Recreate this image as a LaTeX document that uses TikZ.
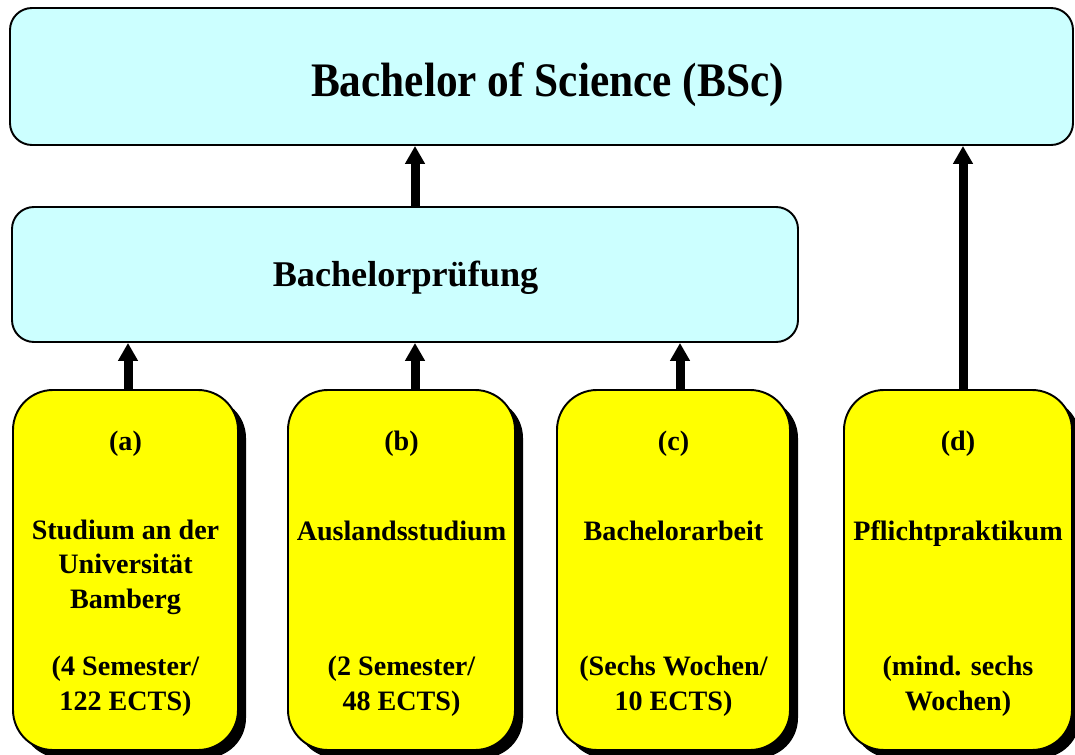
\documentclass[tikz,border=0pt]{standalone}
\usepackage{fontspec}
\setmainfont{Liberation Serif}
\usetikzlibrary{arrows.meta, positioning, shadows}

\definecolor{degreecyan}{HTML}{CCFFFF}
\definecolor{partyellow}{HTML}{FFFF00}

\begin{document}
\begin{tikzpicture}[
    degree/.style={draw=black, line width=1.1pt, rounded corners=0.44cm, fill=degreecyan, inner sep=0pt},
    part/.style={draw=black, line width=1.1pt, rounded corners=0.8cm, fill=partyellow, inner sep=0pt,
        minimum height=7.2cm, drop shadow={shadow xshift=0.16cm, shadow yshift=-0.16cm, opacity=1, fill=black}},
    parttext/.style={font=\bfseries\fontsize{16}{19.4}\selectfont, align=center, anchor=base, inner sep=0pt},
    uparrow/.style={line width=0.18cm, -{Triangle[width=0.38cm, length=0.36cm]}}
]

    \useasboundingbox (0,0) rectangle (21.5,-15.1);

    % Define nodes
    \node (bsc) [degree, minimum width=21.26cm, minimum height=2.74cm] at (10.83,-1.53) {};
    \node (pruefung) [degree, minimum width=15.72cm, minimum height=2.7cm] at (8.1,-5.49) {};

    \node (a) [part, minimum width=4.5cm] at (2.51,-11.4) {};
    \node (b) [part, minimum width=4.54cm] at (8.03,-11.4) {};
    \node (c) [part, minimum width=4.66cm] at (13.47,-11.4) {};
    \node (d) [part, minimum width=4.56cm] at (19.16,-11.4) {};

    % Texts in the boxes (base = last line)
    \node (bsctext) [anchor=base, inner sep=0pt] at (10.95,-1.94)
        {\fontsize{27.4}{32}\selectfont\bfseries\scalebox{0.9}[1]{Bachelor of Science (BSc)}};
    \node (pruefungtext) [anchor=base, inner sep=0pt] at (8.11,-5.72)
        {\fontsize{20.6}{24}\selectfont\bfseries Bachelorprüfung};

    \node (alabel) [parttext] at (2.51,-9.0) {(a)};
    \node (atext) [parttext] at (2.51,-12.16) {Studium an der\\Universität\\Bamberg};
    \node (aects) [parttext] at (2.51,-14.2) {(4 Semester/\\122 ECTS)};

    \node (blabel) [parttext] at (8.03,-9.0) {(b)};
    \node (btext) [parttext] at (8.03,-10.8) {Auslandsstudium};
    \node (bects) [parttext] at (8.03,-14.2) {(2 Semester/\\48 ECTS)};

    \node (clabel) [parttext] at (13.47,-9.0) {(c)};
    \node (ctext) [parttext] at (13.47,-10.8) {Bachelorarbeit};
    \node (cects) [parttext] at (13.47,-14.2) {(Sechs Wochen/\\10 ECTS)};

    \node (dlabel) [parttext] at (19.16,-9.0) {(d)};
    \node (dtext) [parttext] at (19.16,-10.8) {Pflichtpraktikum};
    \node (dweeks) [parttext] at (19.16,-14.2) {(mind. sechs\\Wochen)};

    % Arrow positions
    \coordinate (xa) at (2.56,0);
    \coordinate (xb) at (8.3,0);
    \coordinate (xc) at (13.6,0);
    \coordinate (xd) at (19.26,0);

    % Draw arrows
    \draw[uparrow] (a.north -| xa) -- (pruefung.south -| xa);
    \draw[uparrow] (b.north -| xb) -- (pruefung.south -| xb);
    \draw[uparrow] (c.north -| xc) -- (pruefung.south -| xc);
    \draw[uparrow] (pruefung.north -| xb) -- (bsc.south -| xb);
    \draw[uparrow] (d.north -| xd) -- (bsc.south -| xd);

\end{tikzpicture}
\end{document}
